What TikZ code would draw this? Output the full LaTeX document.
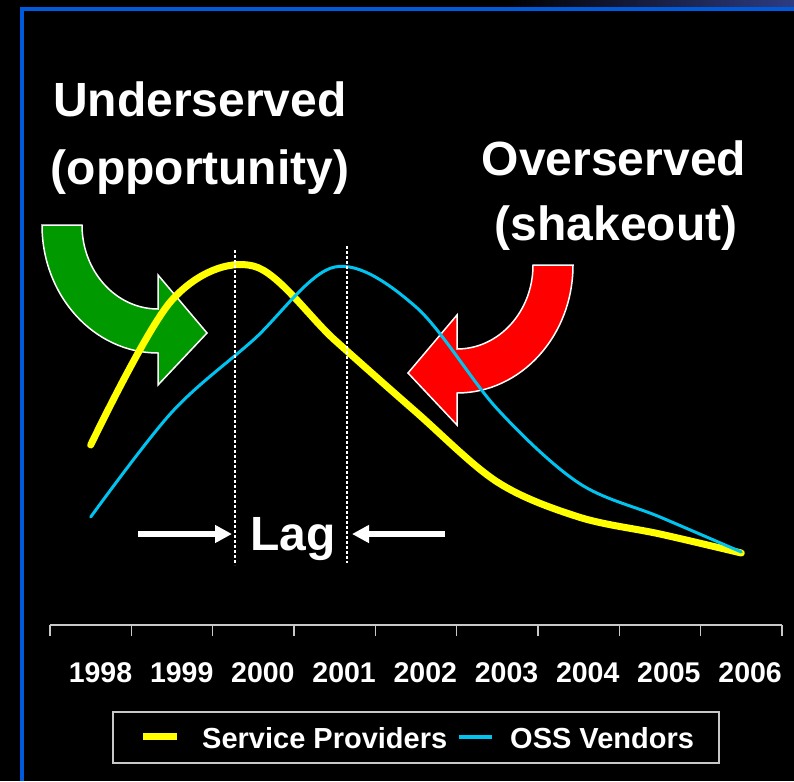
\documentclass[tikz,border=0pt]{standalone}
\usepackage{fontspec}
\setmainfont{Liberation Sans}
\usetikzlibrary{arrows.meta}
\definecolor{frameblue}{RGB}{0,90,220}
\definecolor{topstrip}{RGB}{45,60,130}
\definecolor{spyellow}{RGB}{255,255,0}
\definecolor{osscyan}{RGB}{0,195,240}
\definecolor{arrgreen}{RGB}{0,153,0}
\definecolor{arrred}{RGB}{255,0,0}
\definecolor{axisgray}{RGB}{200,200,200}
\tikzset{
  bigtext/.style={text=white, inner sep=0pt, font=\fontsize{48}{52}\selectfont\bfseries},
  yeartext/.style={text=white, inner sep=0pt, anchor=base, font=\fontsize{28.5}{32}\selectfont\bfseries},
  legendtext/.style={text=white, inner sep=0pt, anchor=base west, font=\fontsize{29}{32}\selectfont\bfseries},
  dottedline/.style={white, line width=2.5pt, dash pattern=on 2.5pt off 2.5pt},
  lagarrow/.style={white, line width=5.5pt, -{Triangle[length=17pt,width=17pt]}},
  spline/.style={spyellow, line width=7pt, line join=round, line cap=round},
  ossline/.style={osscyan, line width=3pt, line join=round, line cap=round},
  curvedarrow/.pic={
    \filldraw[pic actions, line width=1.5pt, line join=miter]
      (-116,0) -- (-76,0)
      arc[start angle=180, end angle=90, x radius=76, y radius=84]
      -- (0,50) -- (49,108) -- (0,160) -- (0,128)
      arc[start angle=90, end angle=180, x radius=116, y radius=128]
      -- cycle;
  }
}
\begin{document}
\begin{tikzpicture}[x=1pt,y=-1pt]
\useasboundingbox (0,0) rectangle (794,781);
\fill[black] (0,0) rectangle (794,781);
\shade[left color=black, right color=topstrip] (505,0) rectangle (794,7.5);
\draw[frameblue, line width=3.8pt] (22,781) -- (22,9) -- (794,9);

% titles
\node[bigtext, anchor=base] (under) at (200,117) {Underserved};
\node[bigtext, anchor=base] (opp) at (200,184) {(opportunity)};
\node[bigtext, anchor=base] (over) at (614,175) {Overserved};
\node[bigtext, anchor=base] (shake) at (616,240) {(shakeout)};

% block arrows
\pic[fill=arrgreen, draw=white] at (158,225) {curvedarrow};
\pic[fill=arrred, draw=white, xscale=-1] at (457,265) {curvedarrow};

% curves
\draw[spline] plot[smooth, tension=0.55] coordinates {
  (90.7,445) (172,300) (253.3,266) (334.7,340) (416,412)
  (497.3,482) (578.7,517) (660,534) (741.3,553)};
\draw[ossline] plot[smooth, tension=0.55] coordinates {
  (90.7,517) (172,412) (253.3,340) (334.7,267) (416,307)
  (497.3,409) (578.7,483) (660,517) (741.3,552)};

% dotted lines
\coordinate (d1t) at (235,250); \coordinate (d1b) at (235,565);
\coordinate (d2t) at (347,246); \coordinate (d2b) at (347,563);
\draw[dottedline] (d1t) -- (d1b);
\draw[dottedline] (d2t) -- (d2b);

% lag
\node[bigtext, anchor=base] (lag) at (293,550) {Lag};
\coordinate (la0) at (138,534); \coordinate (la1) at (232,534);
\coordinate (ra0) at (445,534); \coordinate (ra1) at (352,534);
\draw[lagarrow] (la0) -- (la1);
\draw[lagarrow] (ra0) -- (ra1);

% axis
\coordinate (ax0) at (50,625); \coordinate (ax1) at (782,625);
\draw[axisgray, line width=1.5pt] (ax0) -- (ax1);
\foreach \k in {0,...,9}
  \draw[axisgray, line width=1.5pt] ({50+81.333*\k},625) -- ++(0,11);
\foreach \yr [count=\i from 0] in {1998,...,2006}
  \node[yeartext] (y\yr) at ({100.5+81.2*\i},682) {\yr};

% legend
\node[draw=axisgray, line width=1.5pt, minimum width=606pt, minimum height=51pt,
      inner sep=0pt, anchor=north west] (legend) at (112,711) {};
\coordinate (sw1a) at (143,736.5); \coordinate (sw1b) at (177,736.5);
\coordinate (sw2a) at (459,736.5); \coordinate (sw2b) at (492,736.5);
\draw[spyellow, line width=7pt] (sw1a) -- (sw1b);
\draw[osscyan, line width=4pt] (sw2a) -- (sw2b);
\node[legendtext] (lsp) at (202,748) {Service Providers};
\node[legendtext] (loss) at (510,748) {OSS Vendors};
\end{tikzpicture}
\end{document}
